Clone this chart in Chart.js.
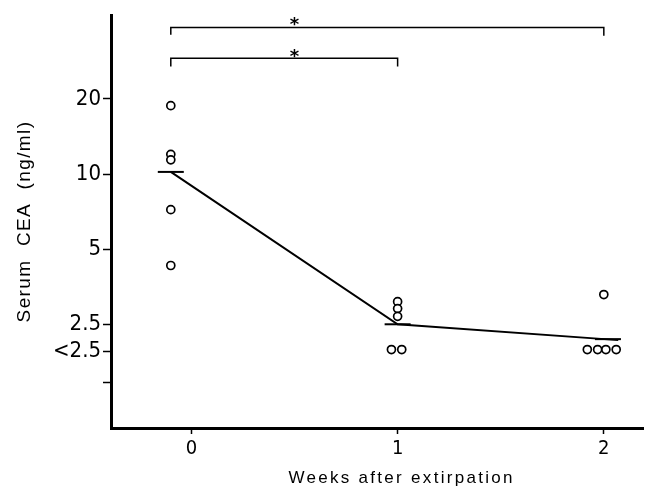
<!DOCTYPE html>
<html lang="en">
<head>
    <meta charset="UTF-8">
    <title>Serum CEA after extirpation</title>
    <script src="https://cdn.jsdelivr.net/npm/chart.js"></script>
    <style>
        body { margin: 0; background: #fff; }
        #wrap { width: 658px; height: 491px; }
    </style>
</head>
<body>
    <div id="wrap"><canvas id="cea" width="658" height="491"></canvas></div>

    <script>
        // individual patients (x = week, slightly offset so overlapping circles show)
        const pointWeeks = [-0.1, -0.1, -0.1, -0.1, -0.1, 1.0, 1.0, 1.0, 0.97, 1.02, 2.0, 1.92, 1.97, 2.01, 2.06];
        const pointCEA   = [18.8, 12.0, 11.4, 7.2, 4.3, 3.08, 2.89, 2.69, 1.98, 1.98, 3.29, 1.98, 1.98, 1.98, 1.98];

        // mean line and the short mean bars
        const meanLineWeeks = [-0.1, 1.0, 2.07];
        const meanLineCEA   = [10.2, 2.5, 2.16];
        const meanBarWeeks  = [-0.1, 1.0, 2.02];
        const meanBarCEA    = [10.2, 2.5, 2.18];

        // significance brackets
        const bracketAWeeks = [-0.1, -0.1, 2.0, 2.0];
        const bracketACEA   = [36.2, 38.7, 38.7, 35.8];
        const bracketBWeeks = [-0.1, -0.1, 1.0, 1.0];
        const bracketBCEA   = [27.0, 29.1, 29.1, 27.0];
        const starWeeks = [0.5, 0.5];
        const starCEA   = [41.5, 30.7];

        // axes
        const xTickValues = [0, 1, 2];
        const xTickLabels = ['0', '1', '2'];
        const yTickValues = [20, 10, 5, 2.5, 1.95, 1.46];
        const yTickLabels = ['20', '10', '5', '2.5', '<2.5', ''];

        const toXY = (xs, ys) => xs.map((x, i) => ({ x: x, y: ys[i] }));

        const tickFamily = "'Liberation Sans Narrow', 'DejaVu Sans Condensed', 'Arial Narrow', sans-serif";

        // axis titles and stars are drawn as text on top of the chart
        const textPlugin = {
            id: 'ceaText',
            afterDraw(chart) {
                const ctx = chart.ctx;
                const xs = chart.scales.x, ys = chart.scales.y;
                ctx.save();
                ctx.fillStyle = '#000';
                ctx.textAlign = 'center';
                ctx.textBaseline = 'middle';

                // stars above the brackets
                ctx.font = "bold 18px 'DejaVu Sans', sans-serif";
                starWeeks.forEach((w, i) => {
                    ctx.fillText('*', xs.getPixelForValue(w), ys.getPixelForValue(starCEA[i]) + 5);
                });

                // x title, centred under week 1
                ctx.font = "17px 'Liberation Sans', Arial, sans-serif";
                ctx.letterSpacing = '2.3px';
                ctx.fillText('Weeks after extirpation', xs.getPixelForValue(1) + 4, chart.height - 13);

                // y title
                ctx.font = "19px 'Liberation Sans', Arial, sans-serif";
                ctx.letterSpacing = '1.4px';
                ctx.translate(25, (ys.top + ys.bottom) / 2);
                ctx.rotate(-Math.PI / 2);
                ctx.fillText('Serum  CEA  (ng/ml)', 0, 0);
                ctx.restore();
            }
        };

        new Chart(document.getElementById('cea').getContext('2d'), {
            type: 'scatter',
            data: {
                datasets: [
                    {
                        data: toXY(pointWeeks, pointCEA),
                        pointRadius: 4,
                        pointBorderWidth: 1.7,
                        borderColor: '#000',
                        backgroundColor: '#fff',
                        showLine: false,
                        order: 0
                    },
                    {
                        data: toXY(meanLineWeeks, meanLineCEA),
                        showLine: true,
                        pointRadius: 0,
                        borderWidth: 2,
                        borderColor: '#000',
                        order: 2
                    },
                    {
                        data: toXY(meanBarWeeks, meanBarCEA),
                        pointStyle: 'line',
                        pointRadius: 13,
                        pointBorderWidth: 2,
                        borderColor: '#000',
                        showLine: false,
                        order: 1
                    },
                    {
                        data: toXY(bracketAWeeks, bracketACEA),
                        showLine: true,
                        pointRadius: 0,
                        borderWidth: 1.5,
                        borderColor: '#000',
                        order: 3
                    },
                    {
                        data: toXY(bracketBWeeks, bracketBCEA),
                        showLine: true,
                        pointRadius: 0,
                        borderWidth: 1.5,
                        borderColor: '#000',
                        order: 3
                    }
                ]
            },
            options: {
                responsive: false,
                animation: false,
                layout: { padding: { top: 10, right: 10, left: 0, bottom: 0 } },
                plugins: { legend: { display: false }, tooltip: { enabled: false } },
                scales: {
                    x: {
                        type: 'linear',
                        min: -0.39,
                        max: 2.19,
                        afterBuildTicks: s => { s.ticks = xTickValues.map(v => ({ value: v })); },
                        afterFit: s => { s.height = 63; },
                        ticks: {
                            autoSkip: false,
                            maxRotation: 0,
                            color: '#000',
                            padding: 3,
                            font: { family: tickFamily, size: 20 },
                            callback: (v, i) => xTickLabels[i]
                        },
                        grid: { drawOnChartArea: false, tickLength: 6, tickColor: '#000', tickWidth: 1.5 },
                        border: { color: '#000', width: 3 }
                    },
                    y: {
                        type: 'logarithmic',
                        min: 0.96,
                        max: 43.4,
                        afterBuildTicks: s => {
                            s.ticks = yTickValues.map(v => ({ value: v }));
                            s.min = 0.96;
                            s.max = 43.4;
                        },
                        afterFit: s => { s.width = 111; },
                        ticks: {
                            autoSkip: false,
                            color: '#000',
                            padding: 2,
                            // small lineHeight keeps the label half-height from pushing the chart top down
                            font: { family: tickFamily, size: 22, lineHeight: 0.7 },
                            callback: (v, i) => yTickLabels[i]
                        },
                        grid: { drawOnChartArea: false, tickLength: 8, tickColor: '#000', tickWidth: 1.5 },
                        border: { color: '#000', width: 3 }
                    }
                }
            },
            plugins: [textPlugin]
        });
    </script>
</body>
</html>
